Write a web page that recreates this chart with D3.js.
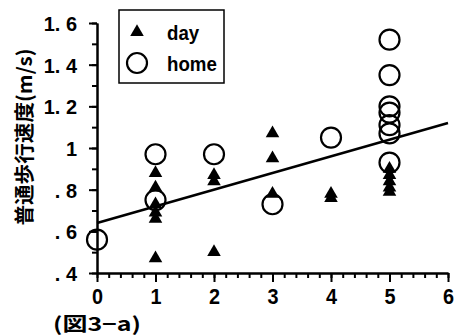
<!DOCTYPE html>
<html>
<head>
<meta charset="utf-8">
<script src="https://cdn.jsdelivr.net/npm/d3@7"></script>
<style>
  body { margin: 0; background: #fff; }
  svg { display: block; }
  .num { font-family: "Liberation Sans", Arial, sans-serif; font-weight: bold; font-size: 21px; fill: #000; }
</style>
</head>
<body>
<svg width="456" height="335"></svg>
<script>
// walking speed vs. score, two groups
const dayX = [1, 1, 1, 1, 1, 1, 2, 2, 2, 3, 3, 3, 4, 4, 5, 5, 5, 5, 5]
const dayY = [0.88, 0.81, 0.73, 0.69, 0.66, 0.47, 0.87, 0.84, 0.50, 1.07, 0.95, 0.78, 0.78, 0.76, 0.90, 0.87, 0.84, 0.81, 0.79]

const homeX = [0, 1, 1, 2, 3, 4, 5, 5, 5, 5, 5, 5, 5]
const homeY = [0.56, 0.97, 0.75, 0.97, 0.73, 1.05, 1.52, 1.35, 1.20, 1.17, 1.11, 1.07, 0.93]

// regression line y = a + b x
const lineA = 0.64
const lineB = 0.08

const xTicks = [0, 1, 2, 3, 4, 5, 6]
const xTickLabels = ["0", "1", "2", "3", "4", "5", "6"]
const yTicks = [0.4, 0.6, 0.8, 1.0, 1.2, 1.4, 1.6]
const yTickLabels = [". 4", ". 6", ". 8", "1", "1. 2", "1. 4", "1. 6"]

const yTitle = "普通歩行速度(m/s)"
const caption = "(図3−a)"
const legendNames = ["day", "home"]

const svg = d3.select('svg')

const x = d3.scaleLinear().domain([0, 6]).range([97, 448])
const y = d3.scaleLinear().domain([0.4, 1.6]).range([273, 23])

// squeeze a text horizontally, like the narrow font of the original
function narrow(sel, k) {
    sel.each(function () {
        const w = this.getComputedTextLength()
        d3.select(this).attr('textLength', w * k).attr('lengthAdjust', 'spacingAndGlyphs')
    })
}

// minor ticks first, majors on top
svg.append('g')
    .attr('transform', `translate(0,${y(0.4)})`)
    .call(d3.axisBottom(x).tickValues(d3.range(0, 6.01, 0.2)).tickSize(5).tickSizeOuter(0).tickFormat(''))
svg.append('g')
    .attr('transform', `translate(${x(0)},0)`)
    .call(d3.axisLeft(y).tickValues(d3.range(0.4, 1.61, 0.1)).tickSize(5).tickSizeOuter(0).tickFormat(''))

const xAxis = svg.append('g')
    .attr('transform', `translate(0,${y(0.4)})`)
    .call(d3.axisBottom(x).tickValues(xTicks).tickSize(9).tickSizeOuter(0)
        .tickFormat((d, i) => xTickLabels[i]))
const yAxis = svg.append('g')
    .attr('transform', `translate(${x(0)},0)`)
    .call(d3.axisLeft(y).tickValues(yTicks).tickSize(8).tickSizeOuter(0)
        .tickFormat((d, i) => yTickLabels[i]).tickPadding(12))

svg.selectAll('.domain, .tick line').attr('stroke', '#000').attr('stroke-width', 2)
svg.selectAll('.tick text').attr('class', 'num').attr('font-family', null).attr('font-size', null)
xAxis.selectAll('.tick text').attr('y', 23).attr('dy', '0.36em').style('font-size', '22px')
yAxis.selectAll('.tick text').attr('dy', '0.36em').attr('xml:space', 'preserve').style('white-space', 'pre')
narrow(xAxis.selectAll('.tick text'), 0.9)
narrow(yAxis.selectAll('.tick text'), 0.95)

// regression line
svg.append('line')
    .attr('x1', x(0)).attr('y1', y(lineA))
    .attr('x2', x(6)).attr('y2', y(lineA + lineB * 6))
    .attr('stroke', '#000')
    .attr('stroke-width', 2.5)

const tri = d3.symbol().type(d3.symbolTriangle).size(80)

svg.append('g')
    .selectAll('circle')
    .data(homeX.map((d, i) => [d, homeY[i]]))
    .enter()
    .append('circle')
    .attr('cx', d => x(d[0]))
    .attr('cy', d => y(d[1]))
    .attr('r', 10)
    .attr('fill', 'none')
    .attr('stroke', '#000')
    .attr('stroke-width', 2.2)

svg.append('g')
    .selectAll('path')
    .data(dayX.map((d, i) => [d, dayY[i]]))
    .enter()
    .append('path')
    .attr('d', tri)
    .attr('transform', d => `translate(${x(d[0])},${y(d[1])})`)
    .attr('fill', '#000')

// legend
const lg = svg.append('g')
lg.append('rect')
    .attr('x', 119).attr('y', 10).attr('width', 105).attr('height', 73)
    .attr('fill', '#fff').attr('stroke', '#000').attr('stroke-width', 1.5)
lg.append('path').attr('d', tri).attr('transform', 'translate(137,32)').attr('fill', '#000')
lg.append('circle').attr('cx', 137).attr('cy', 63).attr('r', 10)
    .attr('fill', 'none').attr('stroke', '#000').attr('stroke-width', 2.2)
lg.selectAll('text')
    .data(legendNames)
    .enter()
    .append('text')
    .attr('class', 'num')
    .attr('x', 167)
    .attr('y', (d, i) => 32 + i * 31)
    .attr('dy', '0.36em')
    .text(d => d)
    .call(narrow, 0.89)

// axis title
svg.append('text')
    .attr('transform', 'translate(25,137) rotate(-90)')
    .attr('text-anchor', 'middle')
    .attr('dy', '0.36em')
    .style('font-family', '"Noto Sans CJK JP", sans-serif')
    .style('font-weight', 'bold')
    .style('font-size', '20px')
    .text(yTitle)
    .call(narrow, 1.03)

svg.append('text')
    .attr('x', 53)
    .attr('y', 324)
    .attr('dy', '0.36em')
    .style('font-family', '"Noto Sans CJK JP", sans-serif')
    .style('font-weight', 'bold')
    .style('font-size', '19px')
    .attr('textLength', 88)
    .attr('lengthAdjust', 'spacingAndGlyphs')
    .text(caption)
</script>
</body>
</html>
